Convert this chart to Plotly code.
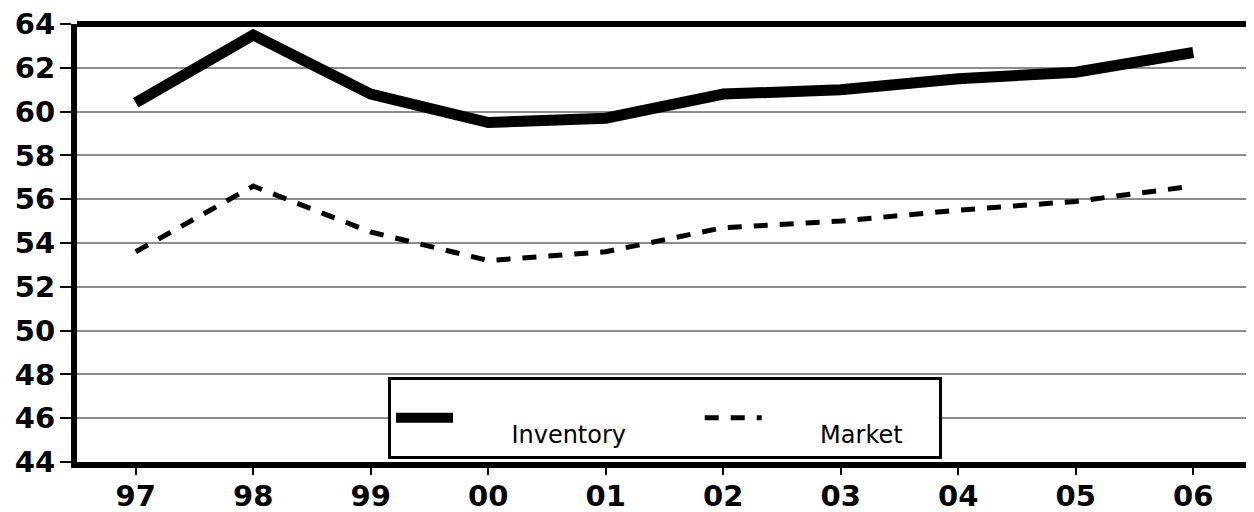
import plotly.graph_objects as go

years = ["97", "98", "99", "00", "01", "02", "03", "04", "05", "06"]
inventory = [60.4, 63.5, 60.8, 59.5, 59.7, 60.8, 61.0, 61.5, 61.8, 62.7]
market = [53.6, 56.6, 54.5, 53.2, 53.6, 54.7, 55.0, 55.5, 55.9, 56.6]
y_ticks = [44, 46, 48, 50, 52, 54, 56, 58, 60, 62, 64]

NB = "\u00a0"

# The page body adds an 8px offset; the figure is sized and margined to compensate.
OFF = 8
PLOT_L, PLOT_R, PLOT_T, PLOT_B = 77, 1252, 24, 462
FIG_W, FIG_H = 1254 - OFF, 512 - OFF
PW = PLOT_R - PLOT_L
PH = PLOT_B - PLOT_T

fig = go.Figure()
fig.add_trace(go.Scatter(
    x=years, y=inventory, mode="lines",
    name="<br>" + NB * 7 + "Inventory" + NB * 9,
    line=dict(color="black", width=11),
))
fig.add_trace(go.Scatter(
    x=years, y=market, mode="lines",
    name="<br>" + NB * 7 + "Market" + NB * 4,
    line=dict(color="black", width=5, dash="14px,12px"),
))

tickfont = dict(family="DejaVu Sans", size=29, color="black", weight="bold")

fig.update_layout(
    width=FIG_W, height=FIG_H, autosize=False,
    margin=dict(l=PLOT_L - OFF, r=1254 - PLOT_R, t=PLOT_T - OFF,
                b=512 - PLOT_B, pad=0),
    paper_bgcolor="white", plot_bgcolor="white",
    xaxis=dict(
        type="category", categoryorder="array", categoryarray=years,
        range=[-0.5, 9.5], automargin=False,
        showline=True, linecolor="black", linewidth=6,
        ticks="outside", ticklen=7, tickwidth=1.5, tickcolor="black",
        showgrid=False, zeroline=False,
        tickfont=tickfont, ticklabelstandoff=-4,
        ticklabeloverflow="allow",
    ),
    yaxis=dict(
        range=[44, 64], tickvals=y_ticks, ticktext=[str(v) for v in y_ticks],
        automargin=False,
        showline=True, linecolor="black", linewidth=6,
        ticks="outside", ticklen=11, tickwidth=1.5, tickcolor="black",
        showgrid=True, gridcolor="#8c8c8c", gridwidth=1.5,
        zeroline=False,
        tickfont=tickfont, ticklabelstandoff=-1,
        ticklabeloverflow="allow",
    ),
    showlegend=True,
    legend=dict(
        orientation="h",
        x=(388 - PLOT_L) / PW, xanchor="left",
        y=(PLOT_B - 418) / PH, yanchor="middle",
        bordercolor="black", borderwidth=3, bgcolor="white",
        font=dict(family="DejaVu Sans", size=24, color="black"),
        itemwidth=57,
        traceorder="normal",
    ),
    shapes=[
        dict(type="line", xref="paper", yref="paper", x0=0, x1=1, y0=1, y1=1,
             line=dict(color="black", width=6)),
        dict(type="line", xref="paper", yref="paper", x0=1, x1=1, y0=0, y1=1,
             line=dict(color="black", width=1.5)),
    ],
)

fig.write_html("out.html")
